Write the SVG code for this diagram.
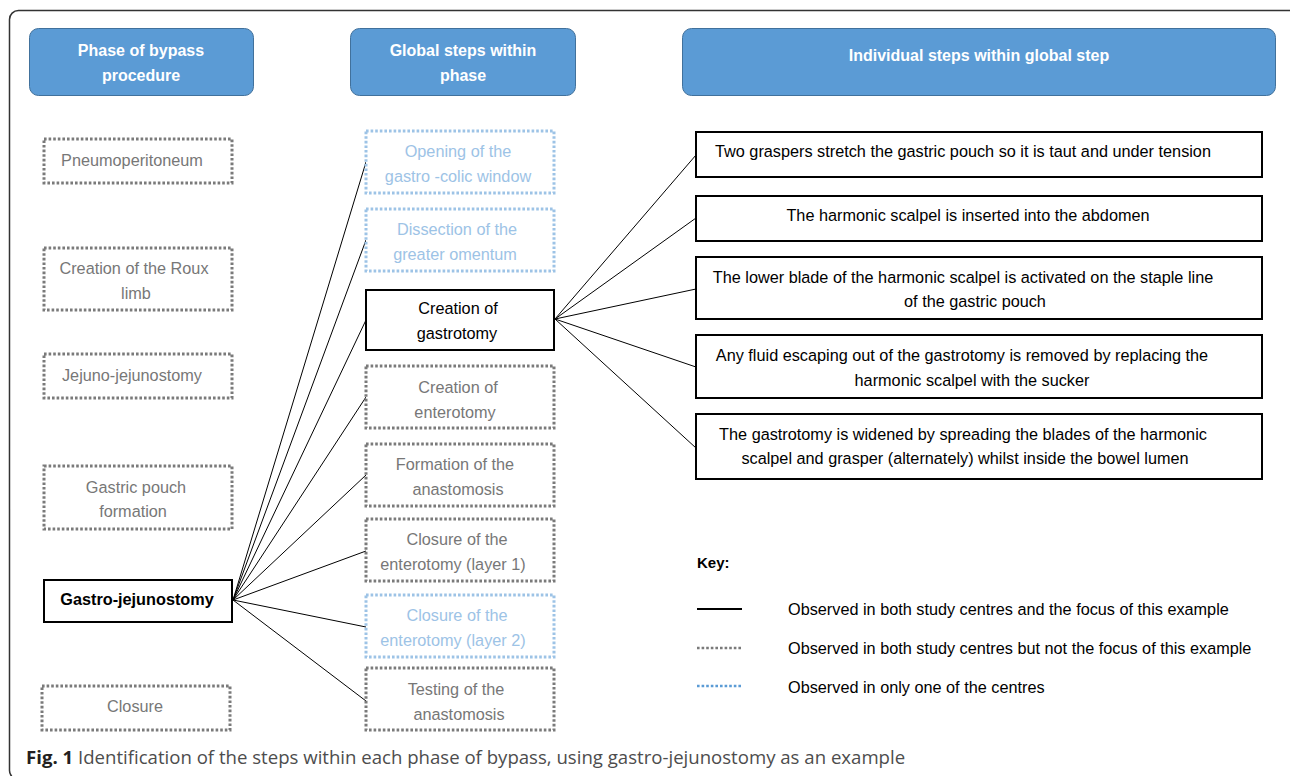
<svg xmlns="http://www.w3.org/2000/svg" width="1290" height="776" viewBox="0 0 1290 776">
<style>
.hdr{fill:#5B9BD5;stroke:#41719C;stroke-width:1}
.hdrt{font-family:"Liberation Sans",Arial,sans-serif;font-weight:bold;font-size:16px;fill:#fff;text-anchor:middle}
.g{fill:#fff;stroke:#7a7a7a;stroke-width:3;stroke-dasharray:2.6 2}
.b{fill:#fff;stroke:#9DC3E6;stroke-width:3;stroke-dasharray:2.6 2}
.s{fill:#fff;stroke:#000;stroke-width:2}
.t{font-family:"Liberation Sans",Arial,sans-serif;font-size:16.25px;text-anchor:middle}
.tg{fill:#777}
.tb{fill:#9DC3E6}
.tk{fill:#000}
.conn line{stroke:#000;stroke-width:1}
</style>
<rect x="9.5" y="10.5" width="1292" height="769" rx="9" fill="none" stroke="#333" stroke-width="1.5"/>

<g id="hdr1"><rect class="hdr" x="29.5" y="28.5" width="224" height="67" rx="9"/><text class="hdrt" x="141" y="56">Phase of bypass</text><text class="hdrt" x="141" y="81">procedure</text></g>
<g id="hdr2"><rect class="hdr" x="350.5" y="28.5" width="225" height="67" rx="9"/><text class="hdrt" x="463" y="56">Global steps within</text><text class="hdrt" x="463" y="81">phase</text></g>
<g id="hdr3"><rect class="hdr" x="682.5" y="28.5" width="593" height="67" rx="9"/><text class="hdrt" x="979" y="61">Individual steps within global step</text></g>

<g class="conn" id="connectors">
<line x1="233" y1="600" x2="366" y2="162"/>
<line x1="233" y1="600" x2="366" y2="240"/>
<line x1="233" y1="600" x2="366" y2="320"/>
<line x1="233" y1="600" x2="366" y2="397"/>
<line x1="233" y1="600" x2="366" y2="475"/>
<line x1="233" y1="600" x2="366" y2="551"/>
<line x1="233" y1="600" x2="366" y2="627"/>
<line x1="233" y1="600" x2="366" y2="701"/>
<line x1="555" y1="319" x2="696" y2="155"/>
<line x1="555" y1="319" x2="696" y2="218"/>
<line x1="555" y1="319" x2="696" y2="289"/>
<line x1="555" y1="319" x2="696" y2="367"/>
<line x1="555" y1="319" x2="696" y2="448"/>
</g>

<g id="p1"><rect class="g" x="44" y="139" width="188" height="44"/><text class="t tg" x="132" y="165.5">Pneumoperitoneum</text></g>
<g id="p2"><rect class="g" x="44" y="248" width="188" height="62"/><text class="t tg" x="134" y="273.5">Creation of the Roux</text><text class="t tg" x="136" y="298.5">limb</text></g>
<g id="p3"><rect class="g" x="44" y="354" width="188" height="44"/><text class="t tg" x="132" y="380.5">Jejuno-jejunostomy</text></g>
<g id="p4"><rect class="g" x="44" y="466" width="188" height="63"/><text class="t tg" x="136" y="492.5">Gastric pouch</text><text class="t tg" x="133" y="516.5">formation</text></g>
<g id="p5"><rect class="s" x="44" y="580" width="188" height="42"/><text class="t tk" x="137" y="604.5" font-weight="bold">Gastro-jejunostomy</text></g>
<g id="p6"><rect class="g" x="42" y="686" width="188" height="44"/><text class="t tg" x="135" y="711.5">Closure</text></g>

<g id="m1"><rect class="b" x="366" y="131" width="188" height="62"/><text class="t tb" x="458" y="157">Opening of the</text><text class="t tb" x="458" y="182">gastro -colic window</text></g>
<g id="m2"><rect class="b" x="366" y="209" width="188" height="62"/><text class="t tb" x="457" y="234.5">Dissection of the</text><text class="t tb" x="455" y="259.5">greater omentum</text></g>
<g id="m3"><rect class="s" x="366" y="290" width="188" height="60"/><text class="t tk" x="458" y="313.5">Creation of</text><text class="t tk" x="457" y="338.5">gastrotomy</text></g>
<g id="m4"><rect class="g" x="366" y="366" width="188" height="62"/><text class="t tg" x="458" y="392.5">Creation of</text><text class="t tg" x="455" y="417.5">enterotomy</text></g>
<g id="m5"><rect class="g" x="366" y="444" width="188" height="62"/><text class="t tg" x="455" y="469.5">Formation of the</text><text class="t tg" x="458" y="494.5">anastomosis</text></g>
<g id="m6"><rect class="g" x="366" y="519" width="188" height="62"/><text class="t tg" x="457" y="544.5">Closure of the</text><text class="t tg" x="453" y="569.5">enterotomy (layer 1)</text></g>
<g id="m7"><rect class="b" x="366" y="595" width="188" height="62"/><text class="t tb" x="457" y="620.5">Closure of the</text><text class="t tb" x="453" y="645.5">enterotomy (layer 2)</text></g>
<g id="m8"><rect class="g" x="366" y="668" width="188" height="62"/><text class="t tg" x="456" y="694.5">Testing of the</text><text class="t tg" x="459" y="719.5">anastomosis</text></g>

<g id="s1"><rect class="s" x="696" y="132" width="566" height="45"/><text class="t tk" x="963" y="156.5">Two graspers stretch the gastric pouch so it is taut and under tension</text></g>
<g id="s2"><rect class="s" x="696" y="196" width="566" height="45"/><text class="t tk" x="968" y="220.5">The harmonic scalpel is inserted into the abdomen</text></g>
<g id="s3"><rect class="s" x="696" y="257" width="566" height="62"/><text class="t tk" x="963" y="282.5">The lower blade of the harmonic scalpel is activated on the staple line</text><text class="t tk" x="975" y="306.5">of the gastric pouch</text></g>
<g id="s4"><rect class="s" x="696" y="335" width="566" height="63"/><text class="t tk" x="962" y="360.5">Any fluid escaping out of the gastrotomy is removed by replacing the</text><text class="t tk" x="972" y="385.5">harmonic scalpel with the sucker</text></g>
<g id="s5"><rect class="s" x="696" y="414" width="566" height="65"/><text class="t tk" x="963" y="439.5">The gastrotomy is widened by spreading the blades of the harmonic</text><text class="t tk" x="965" y="463.5">scalpel and grasper (alternately) whilst inside the bowel lumen</text></g>

<g id="key">
<text x="697" y="568" font-family="Liberation Sans,Arial,sans-serif" font-size="15" font-weight="bold" fill="#000">Key:</text>
<line x1="697" y1="609" x2="742" y2="609" stroke="#000" stroke-width="2"/>
<line x1="697" y1="648" x2="742" y2="648" stroke="#7a7a7a" stroke-width="2.5" stroke-dasharray="2.6 2"/>
<line x1="697" y1="686" x2="742" y2="686" stroke="#5B9BD5" stroke-width="2.5" stroke-dasharray="2.6 2"/>
<text class="t tk" x="788" y="614.5" style="text-anchor:start">Observed in both study centres and the focus of this example</text>
<text class="t tk" x="788" y="653.5" style="text-anchor:start">Observed in both study centres but not the focus of this example</text>
<text class="t tk" x="788" y="692.5" style="text-anchor:start">Observed in only one of the centres</text>
</g>

<g id="caption">
<text x="26" y="764" font-family="Open Sans,Noto Sans,sans-serif" font-size="18.6" fill="#4d4d4d"><tspan font-weight="bold" fill="#231f20">Fig. 1</tspan> Identification of the steps within each phase of bypass, using gastro-jejunostomy as an example</text>
</g>
</svg>
